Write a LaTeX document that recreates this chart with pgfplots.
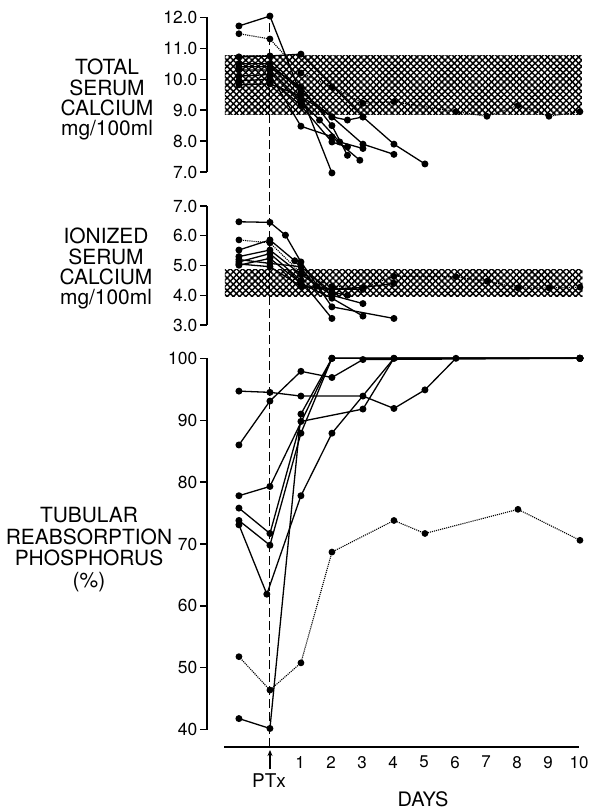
\documentclass[border=0pt]{standalone}
\usepackage{fontspec}
\setmainfont{TeX Gyre Heros}
\usepackage{pgfplots}
\pgfplotsset{compat=1.18}
\usetikzlibrary{patterns.meta,arrows.meta}

\pgfplotsset{
  panel/.style={
    scale only axis, anchor=south west, width=374.5bp,
    xmin=-2.03, xmax=10.05, clip=false,
    axis x line=none, axis y line*=left,
    y axis line style={-, line width=1.8bp},
    tick align=outside, major tick length=7bp,
    every tick/.style={line width=1.3bp, black},
    yticklabel style={font=\fontsize{17.5}{17.5}\selectfont, inner sep=2.5bp},
    /pgf/number format/assume math mode=true,
  },
  ser/.style={black, line width=1.3bp, mark=*, mark size=2.8bp},
  dts/.style={black, line width=1.1bp, densely dotted, mark=*, mark size=2.8bp, mark options={solid}},
  hatchA/.style={draw=none, forget plot, pattern={Lines[angle=45,distance=4.4bp,line width=1.5bp]}},
  hatchB/.style={draw=none, forget plot, pattern={Lines[angle=-45,distance=4.4bp,line width=1.5bp]}},
}

\begin{document}
\begin{tikzpicture}
\path (0,0) rectangle (593bp,-810bp);

% total serum calcium
\begin{axis}[panel, at={(207bp,-172bp)}, height=154.7bp,
  ymin=7, ymax=12, ytick={7,8,...,12},
  yticklabel style={/pgf/number format/.cd, fixed, fixed zerofill, precision=1}]
\addplot[hatchA] coordinates {(-1.45,8.85) (10.06,8.85) (10.06,10.78) (-1.45,10.78)} --cycle;
\addplot[hatchB] coordinates {(-1.45,8.85) (10.06,8.85) (10.06,10.78) (-1.45,10.78)} --cycle;
\addplot[ser] coordinates {(-1,11.72) (0,12.04) (2,6.97)};
\addplot[dts] coordinates {(-1,11.47) (0,11.3) (1,10.2) (2,9.75) (3,9.22) (4,9.27) (6,8.95) (7,8.8) (8,9.15) (9,8.8) (10,8.95)};
\addplot[ser] coordinates {(-1,10.72) (0,10.75) (1,10.81) (3,8.78) (4,7.9) (5,7.26)};
\addplot[ser] coordinates {(-1,10.5) (0,10.5) (1,9.6) (2,8.78) (3,7.9) (4,7.57)};
\addplot[ser] coordinates {(-1,10.3) (0,10.3) (1,9.3) (1.6,8.68) (2.25,7.97) (3,7.76)};
\addplot[ser] coordinates {(-1,10.1) (0,10.15) (1,8.48) (2,8.14) (2.9,7.38)};
\addplot[ser] coordinates {(-1,9.95) (0,10.0) (1,9.15) (2,7.97) (2.5,7.81)};
\addplot[ser] coordinates {(-1,9.82) (0,9.85) (1,9.45) (2,8.78) (2.5,8.68) (3,8.78)};
\addplot[ser] coordinates {(-1,10.4) (0,10.4) (1,9.75) (2,8.5) (2.5,7.54)};
\end{axis}

% ionized serum calcium
\begin{axis}[panel, at={(207bp,-325bp)}, height=119bp,
  ymin=3, ymax=7, ytick={3,4,...,7},
  yticklabel style={/pgf/number format/.cd, fixed, fixed zerofill, precision=1}]
\addplot[hatchA] coordinates {(-1.45,3.95) (10.08,3.95) (10.08,4.85) (-1.45,4.85)} --cycle;
\addplot[hatchB] coordinates {(-1.45,3.95) (10.08,3.95) (10.08,4.85) (-1.45,4.85)} --cycle;
\addplot[ser] coordinates {(-1,6.47) (0,6.45) (0.5,6.02) (1,5.12) (2,3.61) (4,3.22)};
\addplot[dts] coordinates {(-1,5.86) (0,5.76) (1,4.75) (2,4.3) (3,4.25) (4,4.64) (6,4.62) (7,4.47) (8,4.25) (9,4.25) (10,4.27)};
\addplot[ser] coordinates {(-1,5.52) (0,5.86) (0.8,5.16) (1.5,4.3) (2,4.2) (3,4.26) (4,4.4)};
\addplot[ser] coordinates {(-1,5.3) (0,5.52) (1,4.7) (2,4.0) (3,3.72)};
\addplot[ser] coordinates {(-1,5.12) (0,5.4) (1,4.5) (2,3.22)};
\addplot[ser] coordinates {(-1,5.01) (0,5.24) (1,4.4) (2,3.9) (3,3.3)};
\addplot[ser] coordinates {(-1,5.2) (0,5.07) (1,4.96) (2,4.1) (2.5,4.0)};
\addplot[ser] coordinates {(-1,5.05) (0,4.96) (1,4.3) (2,4.2) (3,4.2)};
\end{axis}

% tubular reabsorption of phosphorus
\begin{axis}[panel, at={(207bp,-729.7bp)}, height=371.4bp,
  ymin=40, ymax=100, ytick={40,50,...,100}]
\draw[dash pattern=on 9bp off 4bp, line width=0.9bp] (axis cs:0,37.2) -- (axis cs:0,155.3);
\addplot[ser] coordinates {(-1,94.7) (0,94.5) (1,93.9) (3,93.9) (4,91.9) (5,94.9) (6,100) (10,100)};
\addplot[ser] coordinates {(-1,86.0) (0,93.1) (1,97.9) (2,96.9) (3,99.8) (10,100)};
\addplot[ser] coordinates {(-1,77.8) (0,79.3) (2,100) (10,100)};
\addplot[ser] coordinates {(-1,75.8) (0,71.7) (1,89.8) (3,91.8) (4,100) (10,100)};
\addplot[ser] coordinates {(-1,73.8) (0,69.8) (1,87.9) (2,100) (10,100)};
\addplot[ser] coordinates {(-1,73.1) (-0.1,61.9) (1,77.8) (2,87.9) (4,100) (10,100)};
\addplot[ser] coordinates {(-1,41.8) (0,40.2) (1,91.0) (2,100) (10,100)};
\addplot[dts] coordinates {(-1,51.8) (0,46.4) (1,50.8) (2,68.7) (4,73.8) (5,71.7) (8,75.6) (10,70.6)};
\end{axis}

% day axis
\begin{axis}[at={(224bp,-747bp)}, anchor=south west, scale only axis,
  width=355bp, height=20bp, xmin=-1.45, xmax=10, ymin=0, ymax=1,
  axis x line*=bottom, axis y line=none,
  x axis line style={-, line width=2bp},
  xtick={1,...,10}, major tick length=0pt,
  xticklabel style={font=\fontsize{17}{17}\selectfont, inner sep=0pt, yshift=-9bp},
  /pgf/number format/assume math mode=true]
\end{axis}

\draw[-{Stealth[length=6bp,width=5bp]}, line width=1.1bp] (270bp,-769bp) -- (270bp,-750bp);
\node[font=\fontsize{19}{19}\selectfont, anchor=north, inner sep=0pt] at (269bp,-773bp) {PTx};
\node[font=\fontsize{20}{20}\selectfont, anchor=base, inner sep=0pt] at (423bp,-806bp) {DAYS};

\node[align=center, anchor=north, inner sep=0pt, font=\fontsize{21}{20.4}\selectfont] at (107bp,-59bp) {TOTAL\\SERUM\\CALCIUM\\mg/100ml};
\node[align=center, anchor=north, inner sep=0pt, font=\fontsize{21}{20.4}\selectfont] at (106bp,-228bp) {IONIZED\\SERUM\\CALCIUM\\mg/100ml};
\node[align=center, anchor=north, inner sep=0pt, font=\fontsize{21}{21.7}\selectfont] at (89bp,-507bp) {TUBULAR\\REABSORPTION\\PHOSPHORUS\\(\%)};
\end{tikzpicture}
\end{document}
